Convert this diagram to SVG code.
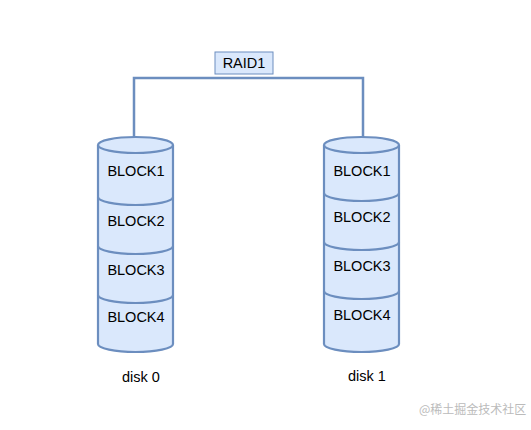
<svg xmlns="http://www.w3.org/2000/svg" width="531" height="430" viewBox="0 0 531 430">
<style>
.cyl{fill:#dae8fc;stroke:#6c8ebf;stroke-width:2.2}
.div{fill:none;stroke:#6c8ebf;stroke-width:2.2}
.t{font-family:"Liberation Sans",Arial,sans-serif;font-size:14.5px;fill:#000;text-anchor:middle}
.conn{fill:none;stroke:#6c8ebf;stroke-width:2.5}
.wm{font-family:"Noto Sans CJK SC","Liberation Sans",sans-serif;font-size:12px;fill:#bbbbbb}
</style>
<rect width="531" height="430" fill="#ffffff"/>
<g id="connectors">
<path class="conn" d="M134,139 V78 H363 V139"/>
</g>
<g id="raid1">
<rect x="215" y="52" width="58" height="22" fill="#dae8fc" stroke="#6c8ebf" stroke-width="1"/>
<text class="t" x="244" y="68">RAID1</text>
</g>
<g id="disk0">
<path class="cyl" d="M98,145 A37.5,8 0 0 1 173,145 V344 A37.5,8 0 0 1 98,344 Z"/>
<path class="div" d="M98,145 A37.5,8 0 0 0 173,145"/>
<path class="div" d="M98,197 A37.5,8 0 0 0 173,197"/>
<path class="div" d="M98,246 A37.5,8 0 0 0 173,246"/>
<path class="div" d="M98,295 A37.5,8 0 0 0 173,295"/>
<text class="t" x="136" y="176">BLOCK1</text>
<text class="t" x="136" y="226">BLOCK2</text>
<text class="t" x="136" y="275">BLOCK3</text>
<text class="t" x="136" y="322">BLOCK4</text>
<text class="t" x="141" y="382">disk 0</text>
</g>
<g id="disk1">
<path class="cyl" d="M324,145 A37.5,8 0 0 1 399,145 V344 A37.5,8 0 0 1 324,344 Z"/>
<path class="div" d="M324,145 A37.5,8 0 0 0 399,145"/>
<path class="div" d="M324,193 A37.5,8 0 0 0 399,193"/>
<path class="div" d="M324,242 A37.5,8 0 0 0 399,242"/>
<path class="div" d="M324,291 A37.5,8 0 0 0 399,291"/>
<text class="t" x="362" y="176">BLOCK1</text>
<text class="t" x="362" y="222">BLOCK2</text>
<text class="t" x="362" y="271">BLOCK3</text>
<text class="t" x="362" y="320">BLOCK4</text>
<text class="t" x="367" y="381">disk 1</text>
</g>
<text class="wm" x="419" y="414">@稀土掘金技术社区</text>
</svg>
